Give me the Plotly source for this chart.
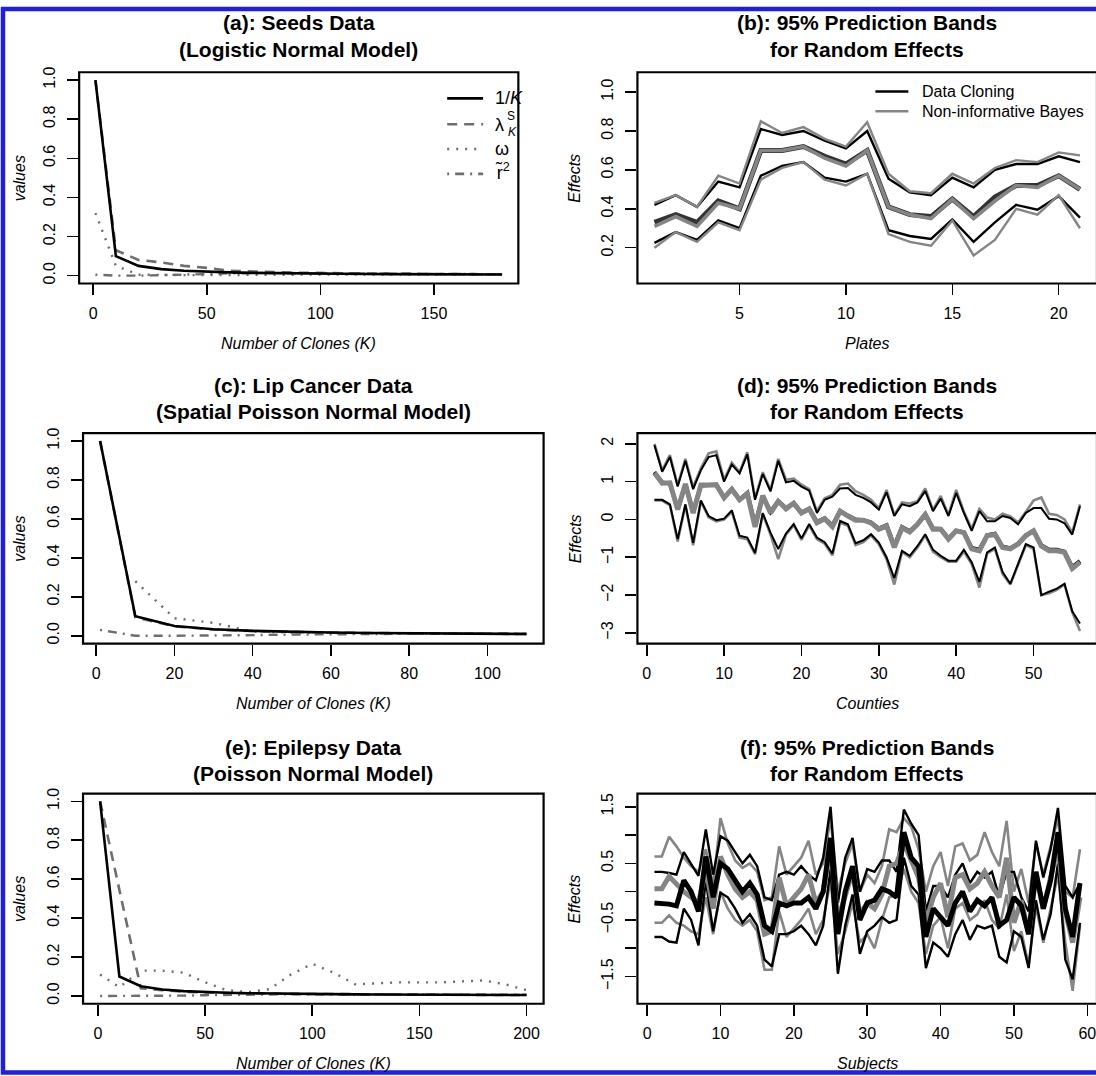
import plotly.graph_objects as go

W, H = 1096, 1076
FONT = "Liberation Sans, Arial, Helvetica, sans-serif"

# ---------------- data ----------------
# (a) Seeds data
K_a = [1, 10, 20, 30, 40, 50, 60, 70, 80, 90, 100, 110, 120, 130, 140, 150, 160, 170, 180]
inv_a = [1.0, 0.1, 0.05, 0.0333, 0.025, 0.02, 0.0167, 0.0143, 0.0125, 0.0111, 0.01, 0.0091,
         0.0083, 0.0077, 0.0071, 0.0067, 0.0063, 0.0059, 0.0056]
lam_a = [1.0, 0.13, 0.08, 0.068, 0.05, 0.04, 0.025, 0.02, 0.018, 0.015, 0.013, 0.012,
         0.011, 0.01, 0.009, 0.008, 0.008, 0.007, 0.007]
omg_a = [0.32, 0.05, 0.005, 0.003, 0.003, 0.003, 0.004, 0.005, 0.006, 0.006, 0.006, 0.006,
         0.006, 0.006, 0.006, 0.006, 0.006, 0.006, 0.006]
tau_a = [0.005, 0.0, 0.0, 0.002, 0.005, 0.008, 0.012, 0.014, 0.013, 0.012, 0.011, 0.01,
         0.01, 0.009, 0.009, 0.008, 0.008, 0.008, 0.008]

# (c) Lip cancer data
K_c = [1, 10, 20, 30, 40, 50, 60, 70, 80, 90, 100, 110]
inv_c = [1.0, 0.1, 0.05, 0.0333, 0.025, 0.02, 0.0167, 0.0143, 0.0125, 0.0111, 0.01, 0.0091]
lam_c = [1.0, 0.095, 0.048, 0.032, 0.024, 0.019, 0.016, 0.014, 0.012, 0.011, 0.01, 0.009]
omg_c = [None, 0.28, 0.09, 0.066, 0.022, 0.016, 0.014, 0.012, 0.011, 0.01, 0.01, 0.009]
tau_c = [0.03, 0.0, 0.0, 0.0, 0.003, 0.006, 0.008, 0.009, 0.01, 0.01, 0.01, 0.01]

# (e) Epilepsy data
K_e = [1, 10, 20, 30, 40, 50, 60, 70, 80, 90, 100, 110, 120, 130, 140, 150, 160, 170, 180, 190, 200]
inv_e = [1.0, 0.1, 0.05, 0.0333, 0.025, 0.02, 0.0167, 0.0143, 0.0125, 0.0111, 0.01, 0.0091,
         0.0083, 0.0077, 0.0071, 0.0067, 0.0063, 0.0059, 0.0056, 0.0053, 0.005]
lam_e = [1.0, 0.54, 0.04, 0.03, 0.022, 0.018, 0.015, 0.013, 0.012, 0.011, 0.01, 0.009,
         0.008, 0.008, 0.007, 0.007, 0.006, 0.006, 0.006, 0.005, 0.005]
omg_e = [0.11, 0.045, 0.13, 0.13, 0.12, 0.07, 0.03, 0.02, 0.035, 0.11, 0.165, 0.12,
         0.06, 0.065, 0.07, 0.07, 0.07, 0.075, 0.08, 0.06, 0.03]
tau_e = [0.0, 0.0, 0.0, 0.0, 0.002, 0.004, 0.006, 0.008, 0.009, 0.009, 0.008, 0.008,
         0.007, 0.007, 0.007, 0.007, 0.006, 0.006, 0.006, 0.006, 0.006]

# (b) Seeds prediction bands (21 plates)
plates = list(range(1, 22))
b_dc_up = [0.42, 0.47, 0.41, 0.54, 0.51, 0.81, 0.78, 0.80, 0.75, 0.71, 0.80, 0.555, 0.485, 0.47, 0.56,
           0.51, 0.60, 0.63, 0.63, 0.67, 0.64]
b_nb_up = [0.43, 0.47, 0.41, 0.57, 0.53, 0.85, 0.79, 0.82, 0.76, 0.72, 0.845, 0.58, 0.49, 0.48, 0.58,
           0.53, 0.61, 0.65, 0.64, 0.69, 0.675]
b_dc_med = [0.33, 0.37, 0.33, 0.44, 0.40, 0.70, 0.70, 0.72, 0.67, 0.63, 0.70, 0.41, 0.37, 0.36, 0.45,
            0.36, 0.46, 0.52, 0.52, 0.57, 0.50]
b_nb_med = [0.31, 0.36, 0.31, 0.43, 0.40, 0.70, 0.70, 0.72, 0.66, 0.62, 0.70, 0.41, 0.37, 0.35, 0.45,
            0.35, 0.44, 0.52, 0.51, 0.57, 0.50]
b_dc_lo = [0.225, 0.28, 0.24, 0.34, 0.30, 0.57, 0.62, 0.64, 0.56, 0.54, 0.58, 0.29, 0.26, 0.245, 0.345,
           0.23, 0.33, 0.42, 0.395, 0.465, 0.355]
b_nb_lo = [0.20, 0.28, 0.23, 0.33, 0.29, 0.55, 0.61, 0.64, 0.55, 0.52, 0.58, 0.27, 0.23, 0.21, 0.34,
           0.16, 0.24, 0.40, 0.37, 0.47, 0.30]

# (d) Lip cancer prediction bands (56 counties)
counties = list(range(1, 57))
d_dc_up = [1.96, 1.26, 1.65, 0.87, 1.55, 0.80, 1.30, 1.65, 1.70, 1.00, 1.45, 1.22, 1.72, 0.52, 1.20,
           0.74, 1.55, 0.98, 1.02, 0.87, 0.76, 0.17, 0.52, 0.60, 0.82, 0.83, 0.65, 0.57, 0.45, 0.26,
           0.72, 0.09, 0.40, 0.35, 0.45, 0.75, 0.22, 0.55, 0.09, 0.70, 0.17, -0.30, 0.22, -0.05, -0.05,
           0.09, 0.04, -0.13, 0.17, 0.30, 0.30, 0.02, 0.00, -0.10, -0.40, 0.35]
d_nb_up = [2.00, 1.30, 1.70, 0.90, 1.60, 0.85, 1.35, 1.75, 1.80, 1.05, 1.50, 1.25, 1.78, 0.55, 1.25,
           0.78, 1.60, 1.05, 1.08, 0.92, 0.80, 0.22, 0.56, 0.65, 0.92, 0.95, 0.75, 0.65, 0.52, 0.30,
           0.78, 0.12, 0.45, 0.42, 0.48, 0.82, 0.25, 0.62, 0.12, 0.78, 0.20, -0.25, 0.28, 0.05, 0.00,
           0.15, 0.08, -0.08, 0.20, 0.50, 0.58, 0.15, 0.12, 0.00, -0.35, 0.40]
d_dc_med = [1.25, 0.98, 0.95, 0.28, 0.92, 0.20, 0.90, 0.92, 0.92, 0.58, 0.80, 0.52, 0.70, -0.15, 0.62,
            0.20, 0.48, 0.30, 0.43, 0.18, 0.28, -0.06, 0.03, -0.16, 0.22, 0.10, 0.00, -0.02, -0.08, -0.24,
            -0.15, -0.70, -0.20, -0.31, -0.12, 0.14, -0.24, -0.25, -0.50, -0.30, -0.34, -0.75, -0.80,
            -0.42, -0.38, -0.72, -0.76, -0.64, -0.42, -0.30, -0.68, -0.80, -0.80, -0.85, -1.26, -1.10]
d_nb_med = [1.23, 0.96, 0.97, 0.26, 0.94, 0.17, 0.91, 0.91, 0.91, 0.57, 0.80, 0.52, 0.68, -0.20, 0.63,
            0.17, 0.48, 0.28, 0.43, 0.17, 0.28, -0.09, 0.02, -0.19, 0.22, 0.09, -0.02, -0.02, -0.09, -0.26,
            -0.17, -0.74, -0.22, -0.33, -0.13, 0.13, -0.26, -0.26, -0.52, -0.30, -0.35, -0.78, -0.83,
            -0.43, -0.39, -0.74, -0.78, -0.65, -0.43, -0.30, -0.70, -0.83, -0.83, -0.87, -1.30, -1.13]
d_dc_lo = [0.52, 0.52, 0.40, -0.52, 0.40, -0.62, 0.50, 0.09, -0.02, 0.02, 0.24, -0.43, -0.48, -0.88, 0.17,
           -0.35, -0.78, -0.37, -0.12, -0.50, -0.12, -0.48, -0.60, -0.90, -0.04, -0.13, -0.63, -0.55, -0.39,
           -0.61, -1.00, -1.55, -0.83, -0.96, -0.70, -0.39, -0.80, -0.96, -1.09, -1.09, -0.80, -1.13, -1.65,
           -0.87, -0.74, -1.39, -1.70, -1.17, -0.65, -0.74, -2.00, -1.91, -1.83, -1.70, -2.43, -2.75]
d_nb_lo = [0.50, 0.50, 0.38, -0.58, 0.38, -0.68, 0.48, 0.06, -0.05, 0.00, 0.20, -0.48, -0.52, -0.92, 0.14,
           -0.40, -1.05, -0.40, -0.15, -0.54, -0.16, -0.52, -0.64, -0.95, -0.08, -0.17, -0.68, -0.60, -0.42,
           -0.65, -1.05, -1.72, -0.86, -1.00, -0.74, -0.42, -0.85, -1.00, -1.12, -1.12, -0.85, -1.18, -1.80,
           -0.90, -0.78, -1.44, -1.72, -1.20, -0.68, -0.78, -2.00, -1.95, -1.86, -1.72, -2.45, -2.95]

# (f) Epilepsy prediction bands (59 subjects)
subjects = list(range(1, 60))
f_dc_up = [0.35, 0.35, 0.33, 0.30, 0.70, 0.50, 0.28, 1.10, 0.30, 0.98, 0.90, 0.70, 0.50, 0.65, 0.45,
           -0.10, -0.15, 0.30, 0.35, 0.30, 0.45, 0.30, 0.20, 0.60, 1.50, -0.20, 0.60, 0.95, 0.00, 0.40,
           0.35, 0.55, 0.55, 0.35, 1.45, 1.20, 1.00, -0.35, 0.10, 0.10, -0.10, 0.30, 0.50, 0.15, 0.35,
           0.25, 0.35, -0.10, 0.35, 0.35, -0.10, -0.35, 0.90, 0.25, 0.75, 1.48, 0.10, -0.10, 0.15]
f_nb_up = [0.62, 0.62, 0.97, 0.80, 0.60, 0.45, 0.35, 0.75, 0.10, 1.30, 0.85, 0.55, 0.42, 0.50, 0.35,
           -0.15, -0.10, 0.80, 0.30, 0.45, 0.60, 0.90, 0.30, 0.50, 1.30, 0.00, 0.50, 0.85, 0.00, 0.30,
           0.15, 0.45, 1.10, 1.05, 1.30, 1.15, 0.75, 0.00, 0.45, 0.70, 0.10, 0.80, 0.85, 0.55, 0.65,
           1.05, 0.70, 0.45, 1.25, 0.00, 0.40, -0.20, 0.85, 0.30, 0.80, 1.30, 0.00, -0.10, 0.75]
f_dc_med = [-0.20, -0.20, -0.22, -0.25, 0.20, 0.00, -0.35, 0.62, -0.10, 0.50, 0.40, 0.20, 0.00, 0.15, -0.05,
            -0.60, -0.70, -0.20, -0.25, -0.20, -0.20, -0.10, -0.30, 0.00, 0.95, -0.75, 0.00, 0.45, -0.50,
            -0.20, -0.15, 0.05, 0.00, -0.10, 1.05, 0.60, 0.45, -0.80, -0.30, -0.45, -0.60, -0.20, 0.00,
            -0.35, -0.15, -0.25, -0.10, -0.60, -0.50, -0.10, -0.25, -0.75, 0.35, -0.30, 0.20, 1.05, -0.30,
            -0.80, 0.15]
f_nb_med = [0.05, 0.05, 0.27, 0.12, 0.00, -0.10, -0.20, 0.40, -0.30, 0.62, 0.30, 0.05, -0.10, 0.00, -0.15,
            -0.75, -0.70, 0.25, -0.25, -0.10, 0.05, 0.30, -0.20, 0.00, 0.75, -0.50, -0.10, 0.35, -0.40,
            -0.20, -0.30, -0.05, 0.45, 0.50, 0.85, 0.55, 0.25, -0.55, -0.10, 0.15, -0.45, 0.25, 0.30,
            0.05, 0.15, 0.35, 0.10, -0.10, 0.60, -0.55, -0.15, -0.75, 0.30, -0.30, 0.30, 0.80, -0.35,
            -0.90, -0.10]
f_dc_lo = [-0.80, -0.80, -0.88, -0.90, -0.30, -0.50, -0.95, 0.20, -0.70, -0.02, -0.10, -0.30, -0.55, -0.40,
           -0.60, -1.20, -1.32, -0.75, -0.75, -0.70, -0.60, -0.75, -0.95, -0.60, 0.40, -1.45, -0.60, -0.05,
           -1.10, -0.70, -0.60, -0.45, -0.55, -0.50, 0.60, 0.10, -0.05, -1.35, -0.90, -1.00, -1.15, -0.75,
           -0.50, -0.85, -0.60, -0.65, -0.60, -1.15, -1.25, -0.70, -0.80, -1.35, -0.15, -0.85, -0.40, 0.50,
           -1.20, -1.55, -0.55]
f_nb_lo = [-0.55, -0.55, -0.42, -0.55, -0.60, -0.70, -0.75, -0.10, -0.75, 0.00, -0.30, -0.50, -0.60, -0.50,
           -0.70, -1.38, -1.38, -0.35, -0.80, -0.65, -0.50, -0.30, -0.75, -0.50, 0.20, -1.10, -0.70, -0.20,
           -0.90, -0.75, -1.00, -0.50, -0.10, -0.05, 0.40, 0.00, -0.20, -1.10, -0.60, -0.45, -1.00, -0.30,
           -0.20, -0.50, -0.40, -0.15, -0.50, -0.65, -0.05, -1.05, -0.70, -1.30, -0.25, -0.90, -0.30, 0.30,
           -0.90, -1.75, -0.60]

# tick labels
ticks_values = [0, 0.2, 0.4, 0.6, 0.8, 1.0]
ticks_values_txt = ["0.0", "0.2", "0.4", "0.6", "0.8", "1.0"]
ticks_b = [0.2, 0.4, 0.6, 0.8, 1.0]
ticks_b_txt = ["0.2", "0.4", "0.6", "0.8", "1.0"]
ticks_d = [-3, -2, -1, 0, 1, 2]
ticks_d_txt = ["\u22123", "\u22122", "\u22121", "0", "1", "2"]
ticks_f = [-1.5, -0.5, 0.5, 1.5]
ticks_f_txt = ["\u22121.5", "\u22120.5", "0.5", "1.5"]
ticks_f_minor = [-1.0, 0.0, 1.0]

# ---------------- layout helpers ----------------
def px(x):
    return x / W


def py(y):
    return 1 - y / H


COLS = {"A": (79.3, 519.3), "L": (83.2, 544.6), "R": (638.6, 1099.0)}
ROWS = {1: (66.7, 279.3), 2: (430.0, 641.7), 3: (792.7, 1004.3)}

BLACK = "#000000"
GRAY = "#858585"
GRAY2 = "#6e6e6e"

panels = [
    dict(n=1, col="A", row=1, xr=(-6.16, 187.16), yr=(-0.04, 1.04),
         xt=[0, 50, 100, 150], yt=ticks_values, ytt=ticks_values_txt,
         title=["(a): Seeds Data", "(Logistic Normal Model)"],
         xlab="Number of Clones (K)", ylab="values"),
    dict(n=2, col="R", row=1, xr=(0.2, 21.8), yr=(0.016, 1.102),
         xt=[5, 10, 15, 20], yt=ticks_b, ytt=ticks_b_txt,
         title=["(b): 95% Prediction Bands", "for Random Effects"],
         xlab="Plates", ylab="Effects"),
    dict(n=3, col="L", row=2, xr=(-3.36, 114.36), yr=(-0.04, 1.04),
         xt=[0, 20, 40, 60, 80, 100], yt=ticks_values, ytt=ticks_values_txt,
         title=["(c): Lip Cancer Data", "(Spatial Poisson Normal Model)"],
         xlab="Number of Clones (K)", ylab="values"),
    dict(n=4, col="R", row=2, xr=(-1.2, 58.2), yr=(-3.28, 2.28),
         xt=[0, 10, 20, 30, 40, 50], yt=ticks_d, ytt=ticks_d_txt,
         title=["(d): 95% Prediction Bands", "for Random Effects"],
         xlab="Counties", ylab="Effects"),
    dict(n=5, col="L", row=3, xr=(-6.96, 207.96), yr=(-0.04, 1.04),
         xt=[0, 50, 100, 150, 200], yt=ticks_values, ytt=ticks_values_txt,
         title=["(e): Epilepsy Data", "(Poisson Normal Model)"],
         xlab="Number of Clones (K)", ylab="values"),
    dict(n=6, col="R", row=3, xr=(-1.32, 61.32), yr=(-1.98, 1.733),
         xt=[0, 10, 20, 30, 40, 50, 60], yt=ticks_f, ytt=ticks_f_txt, ymin=ticks_f_minor,
         title=["(f): 95% Prediction Bands", "for Random Effects"],
         xlab="Subjects", ylab="Effects"),
]

TITLE_Y = {1: (17.0, 43.5), 2: (382.0, 408.5), 3: (746.5, 773.0)}
XLAB_Y = {1: 340.0, 2: 702.0, 3: 1064.0}
YLAB_X = {"A": 19.5, "L": 19.5, "R": 576.0}

fig = go.Figure()
layout = dict(width=W, height=H, margin=dict(l=0, r=0, t=0, b=0, pad=0),
              paper_bgcolor="white", plot_bgcolor="white", showlegend=False,
              font=dict(family=FONT, color="black"))
shapes = []
annotations = []

for p in panels:
    n = p["n"]
    c0, c1 = COLS[p["col"]]
    r0, r1 = ROWS[p["row"]]
    lo, hi = p["xr"]
    if c1 > W:
        dom_x = [px(c0), 1.0]
        hi_vis = lo + (hi - lo) * (W - c0) / (c1 - c0)
        xrange = [lo, hi_vis]
    else:
        dom_x = [px(c0), px(c1)]
        xrange = [lo, hi]
    sfx = "" if n == 1 else str(n)
    common = dict(showline=False, zeroline=False, showgrid=False, ticks="outside",
                  ticklen=11, tickwidth=1.6, tickcolor="black",
                  tickfont=dict(family=FONT, size=16, color="black"), fixedrange=True)
    layout["xaxis" + sfx] = dict(domain=dom_x, range=xrange, anchor="y" + sfx,
                                 tickmode="array", tickvals=p["xt"],
                                 ticktext=[str(v) for v in p["xt"]],
                                 ticklabelstandoff=4, ticklabeloverflow="allow", **common)
    yax = dict(domain=[py(r1), py(r0)], range=list(p["yr"]), anchor="x" + sfx,
               tickmode="array", tickvals=p["yt"], ticktext=p["ytt"],
               tickangle=-90, ticklabelstandoff=6, **common)
    if "ymin" in p:
        yax["minor"] = dict(tickmode="array", tickvals=p["ymin"], ticks="outside",
                            ticklen=11, tickwidth=1.6, tickcolor="black", showgrid=False)
    layout["yaxis" + sfx] = yax
    # box
    shapes.append(dict(type="rect", xref="paper", yref="paper",
                       x0=px(c0), x1=px(c1), y0=py(r1), y1=py(r0),
                       line=dict(color="black", width=2.2), layer="above"))
    cx = (c0 + c1) / 2
    t0, t1 = TITLE_Y[p["row"]]
    for txt, ty in zip(p["title"], (t0, t1)):
        annotations.append(dict(text="<b>" + txt + "</b>", x=px(cx), y=py(ty),
                                xref="paper", yref="paper", showarrow=False,
                                xanchor="center", yanchor="middle",
                                font=dict(family=FONT, size=21, color="black")))
    annotations.append(dict(text="<i>" + p["xlab"] + "</i>", x=px(cx), y=py(XLAB_Y[p["row"]]),
                            xref="paper", yref="paper", showarrow=False,
                            xanchor="center", yanchor="middle",
                            font=dict(family=FONT, size=16, color="black")))
    annotations.append(dict(text="<i>" + p["ylab"] + "</i>", x=px(YLAB_X[p["col"]]),
                            y=py((r0 + r1) / 2), xref="paper", yref="paper", showarrow=False,
                            textangle=-90, xanchor="center", yanchor="middle",
                            font=dict(family=FONT, size=16, color="black")))


def add(x, y, n, color, width, dash="solid"):
    sfx = "" if n == 1 else str(n)
    fig.add_trace(go.Scatter(x=x, y=y, mode="lines", xaxis="x" + sfx, yaxis="y" + sfx,
                             line=dict(color=color, width=width, dash=dash),
                             hoverinfo="skip", connectgaps=False))


DASH = "10px,7px"
DOT = "2px,7px"
DOTDASH = "2px,6px,9px,6px"

# (a), (c), (e) diagnostics
for n, K, inv, lam, omg, tau in [(1, K_a, inv_a, lam_a, omg_a, tau_a),
                                 (3, K_c, inv_c, lam_c, omg_c, tau_c),
                                 (5, K_e, inv_e, lam_e, omg_e, tau_e)]:
    add(K, tau, n, GRAY2, 2.4, DOTDASH)
    add(K, omg, n, GRAY2, 2.4, DOT)
    add(K, lam, n, GRAY2, 2.6, DASH)
    add(K, inv, n, BLACK, 2.6)

# (b)
add(plates, b_dc_up, 2, BLACK, 2.4)
add(plates, b_dc_lo, 2, BLACK, 2.4)
add(plates, b_dc_med, 2, "#333333", 5)
add(plates, b_nb_up, 2, GRAY, 2.4)
add(plates, b_nb_lo, 2, GRAY, 2.4)
add(plates, b_nb_med, 2, GRAY, 3.6)

# (d)
add(counties, d_nb_up, 4, GRAY, 2.6)
add(counties, d_nb_lo, 4, GRAY, 2.6)
add(counties, d_dc_up, 4, BLACK, 2.0)
add(counties, d_dc_lo, 4, BLACK, 2.0)
add(counties, d_dc_med, 4, BLACK, 4)
add(counties, d_nb_med, 4, GRAY, 5)

# (f)
add(subjects, f_nb_up, 6, GRAY, 2.6)
add(subjects, f_nb_lo, 6, GRAY, 2.6)
add(subjects, f_dc_up, 6, BLACK, 2.4)
add(subjects, f_dc_lo, 6, BLACK, 2.4)
add(subjects, f_nb_med, 6, GRAY, 5)
add(subjects, f_dc_med, 6, BLACK, 5)

# legend (a)
leg_a = [(93.0, BLACK, "solid"), (119.0, GRAY2, DASH), (144.0, GRAY2, DOT), (169.0, GRAY2, DOTDASH)]
for yy, col, dsh in leg_a:
    shapes.append(dict(type="line", xref="paper", yref="paper", x0=px(448), x1=px(484),
                       y0=py(yy), y1=py(yy), line=dict(color=col, width=2.6, dash=dsh)))
LEGFONT = dict(family=FONT, size=18, color="black")
annotations.append(dict(text="1/<i>K</i>", x=px(494), y=py(93.0), xref="paper", yref="paper",
                        showarrow=False, xanchor="left", yanchor="middle", font=LEGFONT))
annotations.append(dict(text="\u03bb", x=px(494), y=py(120), xref="paper", yref="paper",
                        showarrow=False, xanchor="left", yanchor="middle", font=LEGFONT))
annotations.append(dict(text="S", x=px(506), y=py(111), xref="paper", yref="paper",
                        showarrow=False, xanchor="left", yanchor="middle",
                        font=dict(family=FONT, size=12, color="black")))
annotations.append(dict(text="<i>K</i>", x=px(507), y=py(127), xref="paper", yref="paper",
                        showarrow=False, xanchor="left", yanchor="middle",
                        font=dict(family=FONT, size=12, color="black")))
annotations.append(dict(text="\u03c9", x=px(494), y=py(144), xref="paper", yref="paper",
                        showarrow=False, xanchor="left", yanchor="middle", font=LEGFONT))
annotations.append(dict(text="r\u0303<sup>2</sup>", x=px(494), y=py(167), xref="paper", yref="paper",
                        showarrow=False, xanchor="left", yanchor="middle", font=LEGFONT))

# legend (b)
for yy, col, txt in [(86.0, BLACK, "Data Cloning"), (106.0, GRAY, "Non-informative Bayes")]:
    shapes.append(dict(type="line", xref="paper", yref="paper", x0=px(877), x1=px(910),
                       y0=py(yy), y1=py(yy), line=dict(color=col, width=2.6)))
    annotations.append(dict(text=txt, x=px(922), y=py(yy), xref="paper", yref="paper",
                            showarrow=False, xanchor="left", yanchor="middle",
                            font=dict(family=FONT, size=16, color="black")))

# blue frame around the picture
shapes.append(dict(type="rect", xref="paper", yref="paper",
                   x0=px(3.0), x1=px(1130), y0=py(1073.5), y1=py(3.0),
                   line=dict(color="#1e1ee6", width=4.5), layer="above"))

layout["shapes"] = shapes
layout["annotations"] = annotations
fig.update_layout(**layout)
fig.write_html("out.html",
               config={"displayModeBar": False, "staticPlot": True},
               post_script="document.body.style.margin='0px';"
                           "document.body.style.overflow='hidden';"
                           "document.documentElement.style.overflow='hidden';")
